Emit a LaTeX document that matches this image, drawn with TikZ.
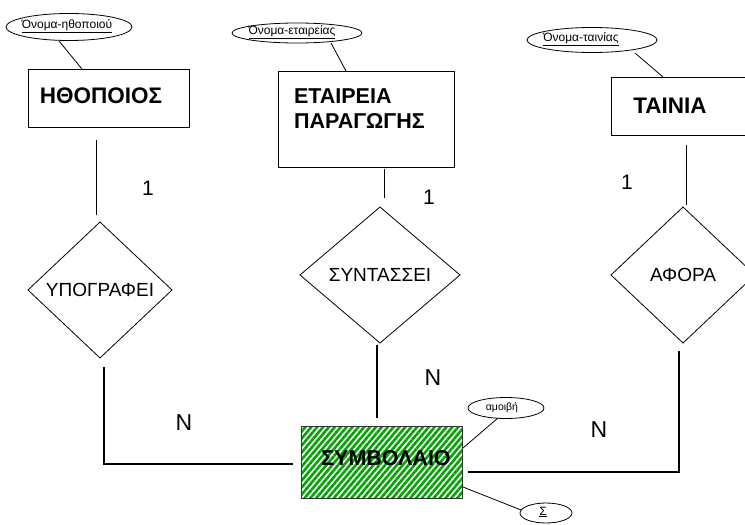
\documentclass[tikz,border=0pt]{standalone}
\usepackage{fontspec}
\setmainfont{Liberation Sans}
\usetikzlibrary{shapes.geometric,patterns.meta}
\definecolor{hatchgreen}{RGB}{0,165,0}
\begin{document}
\begin{tikzpicture}[x=1pt,y=-1pt,
  every node/.style={inner sep=0pt, outer sep=0pt},
  box/.style={draw, line width=0.8pt, rectangle},
  enttext/.style={font=\fontsize{21.5}{25}\selectfont\bfseries},
  relbox/.style={draw, line width=0.8pt, diamond, font=\fontsize{19}{22}\selectfont},
  attr/.style={draw, line width=0.8pt, ellipse},
  attrtext/.style={font=\fontsize{12}{14}\selectfont},
  card/.style={font=\fontsize{21}{24}\selectfont},
  cardn/.style={font=\fontsize{23}{26}\selectfont},
  conn/.style={line width=0.8pt},
  connb/.style={line width=1.2pt},
  connt/.style={line width=1.8pt}
]
\useasboundingbox (0,0) rectangle (745,525);
\clip (0,0) rectangle (745,525);

% entities
\node[box, minimum width=161pt, minimum height=58pt] (b1) at (108.5,98) {};
\node[enttext, font=\fontsize{22.5}{26}\selectfont\bfseries, anchor=base] (t1) at (101,103) {ΗΘΟΠΟΙΟΣ};

\node[box, minimum width=176pt, minimum height=96pt] (b2) at (366,119) {};
\node[enttext, anchor=base west] (t2a) at (294,103) {ΕΤΑΙΡΕΙΑ};
\node[enttext, anchor=base west] (t2b) at (294,128) {ΠΑΡΑΓΩΓΗΣ};

\node[box, minimum width=149pt, minimum height=58pt] (b3) at (685.5,106) {};
\node[enttext, font=\fontsize{22.5}{26}\selectfont\bfseries, anchor=base] (t3) at (670,113) {ΤΑΙΝΙΑ};

\node[box, draw=black!80, preaction={fill=white},
      pattern={Lines[angle=50,distance=4.5pt,line width=2.6pt]}, pattern color=hatchgreen,
      minimum width=161pt, minimum height=72pt] (b4) at (381.5,462) {};
\node[enttext, anchor=base] (t4) at (386,465) {ΣΥΜΒΟΛΑΙΟ};

% relationships
\node[relbox, minimum width=144pt, minimum height=136pt] (d1) at (100,290) {ΥΠΟΓΡΑΦΕΙ};
\node[relbox, minimum width=160pt, minimum height=136pt] (d2) at (380,275) {ΣΥΝΤΑΣΣΕΙ};
\node[relbox, minimum width=144pt, minimum height=136pt] (d3) at (683,275) {ΑΦΟΡΑ};

% attributes
\node[attr, minimum width=126pt, minimum height=27pt] (e1) at (69,27) {};
\node[attrtext] (a1) at (67,26) {\underline{Όνομα-ηθοποιού}};
\node[attr, minimum width=130pt, minimum height=20pt] (e2) at (297,33) {};
\node[attrtext] (a2) at (292,32) {\underline{Όνομα-εταιρείας}};
\node[attr, minimum width=130pt, minimum height=25pt] (e3) at (592,40) {};
\node[attrtext] (a3) at (581,39) {\underline{Όνομα-ταινίας}};
\node[attr, minimum width=76pt, minimum height=21pt] (e4) at (506,408) {};
\node[font=\fontsize{10.5}{12}\selectfont] (a4) at (502,408) {αμοιβή};
\node[attr, minimum width=52pt, minimum height=20pt] (e5) at (546,513) {};
\node[attrtext] (a5) at (543,512) {\underline{Σ}};

% connector end points
\coordinate (p1a) at (96,140);  \coordinate (p1b) at (96,215);
\coordinate (p2a) at (104,367); \coordinate (p2c) at (104,464); \coordinate (p2b) at (293,464);
\coordinate (p3a) at (384,169); \coordinate (p3b) at (384,198);
\coordinate (p4a) at (377,345); \coordinate (p4b) at (377,418);
\coordinate (p5a) at (686,145); \coordinate (p5b) at (686,205);
\coordinate (p6a) at (679,351); \coordinate (p6c) at (679,472); \coordinate (p6b) at (468,472);
\coordinate (q1a) at (59,41);   \coordinate (q1b) at (82,69);
\coordinate (q2a) at (331,43);  \coordinate (q2b) at (346,71);
\coordinate (q3a) at (635,53);  \coordinate (q3b) at (663,77);
\coordinate (q4a) at (498,418); \coordinate (q4b) at (463,448);
\coordinate (q5a) at (463,487); \coordinate (q5b) at (521,510);

% connectors
\draw[conn] (p1a) -- (p1b);
\draw[connb] (p2a) -- (p2c) -- (p2b);
\draw[conn] (p3a) -- (p3b);
\draw[connt] (p4a) -- (p4b);
\draw[conn] (p5a) -- (p5b);
\draw[connb] (p6a) -- (p6c) -- (p6b);
\draw[conn] (q1a) -- (q1b);
\draw[conn] (q2a) -- (q2b);
\draw[conn] (q3a) -- (q3b);
\draw[conn] (q4a) -- (q4b);
\draw[conn] (q5a) -- (q5b);

% cardinalities
\node[card] (n1) at (148,188) {1};
\node[card] (n2) at (429,197) {1};
\node[card] (n3) at (627,182) {1};
\node[cardn] (m1) at (184,423) {N};
\node[cardn] (m2) at (433,378) {N};
\node[cardn] (m3) at (599,430) {N};
\end{tikzpicture}
\end{document}
